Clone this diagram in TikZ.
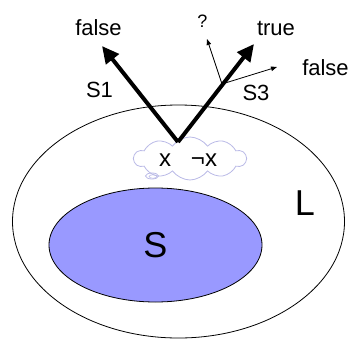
\documentclass[tikz,border=0pt]{standalone}
\usepackage{fontspec}
\setmainfont{Liberation Sans}
\usetikzlibrary{arrows.meta,shapes.geometric,shapes.symbols}
\definecolor{sfill}{RGB}{153,153,255}
\definecolor{cloudc}{RGB}{185,185,230}
\tikzset{
  lbl/.style={inner sep=0pt, anchor=base, font=\fontsize{22bp}{26bp}\selectfont},
  biglbl/.style={inner sep=0pt, anchor=base, font=\fontsize{36bp}{40bp}\selectfont},
  thick arrow/.style={line width=4bp, -{Triangle[length=17bp,width=16bp]}},
  thin arrow/.style={line width=0.8bp, -{Triangle[length=6bp,width=4.5bp]}},
}
\begin{document}
\begin{tikzpicture}[x=1bp,y=-1bp]
\useasboundingbox (0,0) rectangle (353,339);
% outer set L
\node[ellipse, draw, line width=0.8bp, inner sep=0pt, minimum width=332bp, minimum height=233bp] (Lset) at (178.5,221.5) {};
\node[biglbl] (Llbl) at (305,215) {L};
% inner set S
\node[ellipse, draw, line width=0.8bp, fill=sfill, inner sep=0pt, minimum width=213bp, minimum height=114bp, font=\fontsize{36bp}{40bp}\selectfont] (Sset) at (155.5,245) {S};
% cloud
\node[cloud, draw=cloudc, line width=0.8bp, cloud puffs=10, cloud puff arc=110, cloud ignores aspect, minimum width=112bp, minimum height=43bp, inner sep=0pt] (cl) at (190,158.5) {};
\node[ellipse, draw=cloudc, line width=0.8bp, minimum width=13bp, minimum height=6bp, inner sep=0pt] (sw1) at (152,176) {};
\node[ellipse, draw=cloudc, line width=0.6bp, minimum width=8bp, minimum height=3.5bp, inner sep=0pt] (sw2) at (153,176.5) {};
\node[lbl, font=\fontsize{24bp}{28bp}\selectfont] (x) at (165,166) {x};
\node[lbl, font=\fontsize{24bp}{28bp}\selectfont] (nx) at (204,166) {¬x};
% arrows
\coordinate (v) at (178,142);
\coordinate (tl) at (102,46);
\coordinate (tr) at (254,44);
\coordinate (br) at (222,84);
\coordinate (tq) at (207,39);
\coordinate (tf) at (277,67);
\draw[thick arrow] (v) -- (tl);
\draw[thick arrow] (v) -- (tr);
\draw[thin arrow] (br) -- (tq);
\draw[thin arrow] (br) -- (tf);
% labels
\node[lbl] (f1) at (98.5,35) {false};
\node[inner sep=0pt, anchor=base, font=\fontsize{18bp}{21bp}\selectfont] (q) at (202.5,27) {?};
\node[lbl] (t) at (276,35) {true};
\node[lbl] (f2) at (325.5,75) {false};
\node[lbl] (s1) at (99.5,97) {S1};
\node[lbl] (s3) at (256,100) {S3};
\end{tikzpicture}
\end{document}
